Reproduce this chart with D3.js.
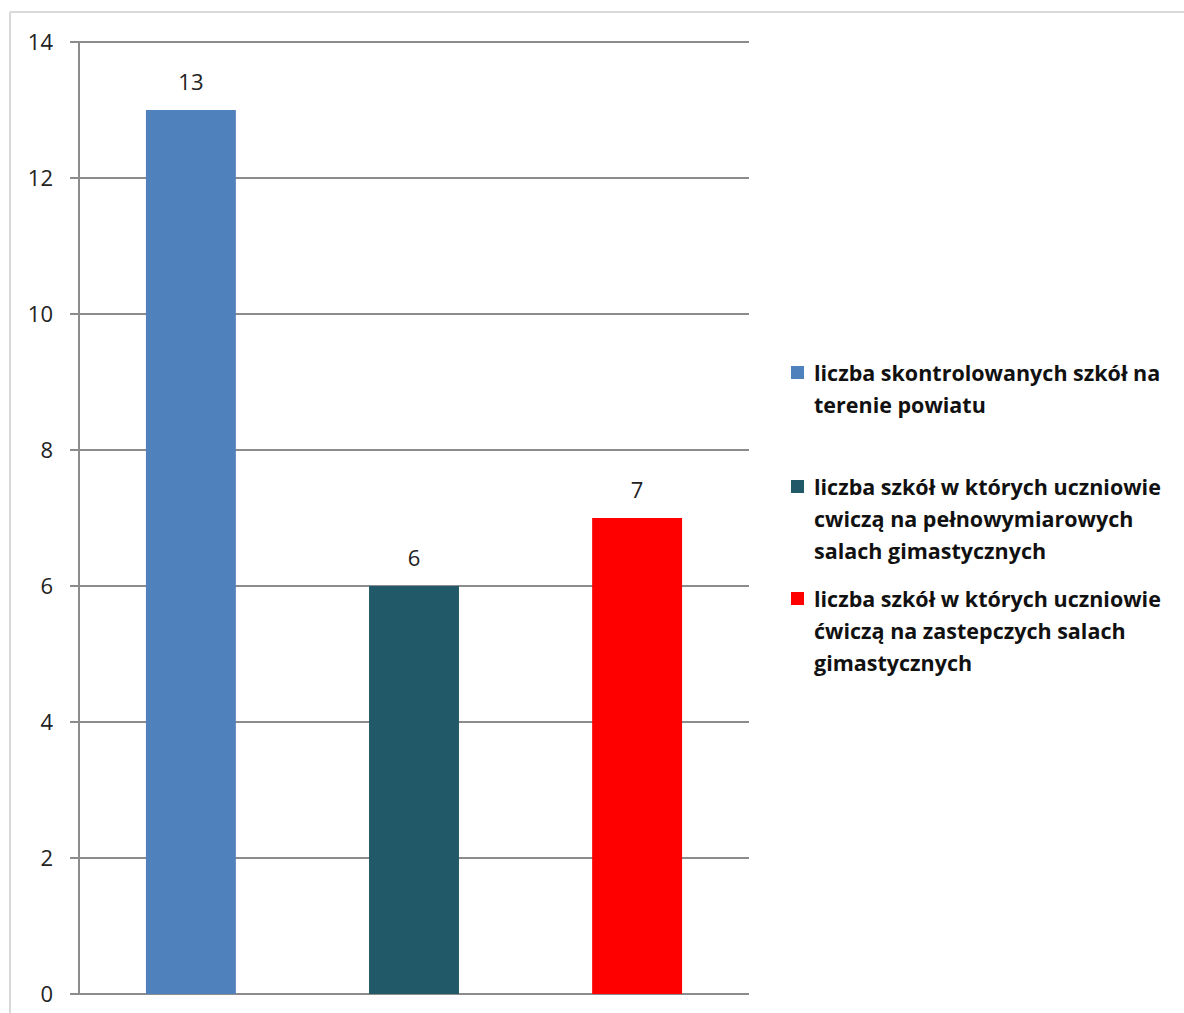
<!DOCTYPE html>
<html>
<head>
<meta charset="utf-8">
<script src="https://cdnjs.cloudflare.com/ajax/libs/d3/7.8.5/d3.min.js"></script>
<style>
  body { margin: 0; background: #fff; }
</style>
</head>
<body>
<div id="chart"></div>
<script>
// data
var categories = ['a', 'b', 'c'];
var values = [13, 6, 7];
var colors = ['#4F81BD', '#215968', '#FF0000'];
var legendLabels = [
    ['liczba skontrolowanych szkół na', 'terenie powiatu'],
    ['liczba szkół w których uczniowie', 'cwiczą na pełnowymiarowych', 'salach gimastycznych'],
    ['liczba szkół w których uczniowie', 'ćwiczą na zastepczych salach', 'gimastycznych']
];
var yTicks = [0, 2, 4, 6, 8, 10, 12, 14];

var W = 1184, H = 1013;
var plot = { left: 79, right: 749, top: 42, bottom: 994 };

var svg = d3.select('#chart').append('svg')
    .attr('width', W)
    .attr('height', H);

// outer frame (only top and left visible)
svg.append('line').attr('x1', 10).attr('x2', W).attr('y1', 12).attr('y2', 12)
    .style('stroke', '#d9d9d9').style('stroke-width', 2);
svg.append('line').attr('x1', 10).attr('x2', 10).attr('y1', 12).attr('y2', H)
    .style('stroke', '#d9d9d9').style('stroke-width', 2);

var x = d3.scaleBand().domain(categories).range([plot.left, plot.right]).paddingInner(0.597).paddingOuter(0.3);
var y = d3.scaleLinear().domain([0, 14]).range([plot.bottom, plot.top]);

// gridlines
svg.append('g').selectAll('line').data(yTicks).enter().append('line')
    .attr('x1', plot.left - 9)
    .attr('x2', plot.right)
    .attr('y1', function (d) { return y(d); })
    .attr('y2', function (d) { return y(d); })
    .style('stroke', '#8c8c8c')
    .style('stroke-width', 2);

// left axis line
svg.append('line').attr('x1', plot.left).attr('x2', plot.left)
    .attr('y1', plot.top).attr('y2', plot.bottom)
    .style('stroke', '#8c8c8c').style('stroke-width', 2);

// tick labels
svg.append('g').selectAll('text').data(yTicks).enter().append('text')
    .attr('x', 53)
    .attr('y', function (d) { return y(d); })
    .attr('dy', '0.35em')
    .attr('text-anchor', 'end')
    .style('font-family', 'Open Sans, sans-serif')
    .style('font-size', '22px')
    .style('fill', '#222')
    .text(function (d) { return d; });

// bars
svg.append('g').selectAll('rect').data(values).enter().append('rect')
    .attr('x', function (d, i) { return x(categories[i]); })
    .attr('y', function (d) { return y(d); })
    .attr('width', x.bandwidth())
    .attr('height', function (d) { return y(0) - y(d); })
    .style('fill', function (d, i) { return colors[i]; });

// value labels
svg.append('g').selectAll('text').data(values).enter().append('text')
    .attr('x', function (d, i) { return x(categories[i]) + x.bandwidth() / 2; })
    .attr('y', function (d) { return y(d) - 20; })
    .attr('text-anchor', 'middle')
    .style('font-family', 'Open Sans, sans-serif')
    .style('font-size', '22px')
    .style('fill', '#222')
    .text(function (d) { return d; });

// legend
var legendY = [373, 487, 599];
var lineH = 32;
var lg = svg.append('g');
legendLabels.forEach(function (lines, i) {
    lg.append('rect')
        .attr('x', 791).attr('y', legendY[i] - 7)
        .attr('width', 13).attr('height', 13)
        .style('fill', colors[i]);
    var t = lg.append('text')
        .style('font-family', 'Open Sans, sans-serif')
        .style('font-weight', 'bold')
        .style('font-size', '21.5px')
        .style('fill', '#111');
    lines.forEach(function (s, j) {
        t.append('tspan')
            .attr('x', 814)
            .attr('y', legendY[i] + j * lineH)
            .attr('dy', '0.35em')
            .text(s);
    });
});
</script>
</body>
</html>
